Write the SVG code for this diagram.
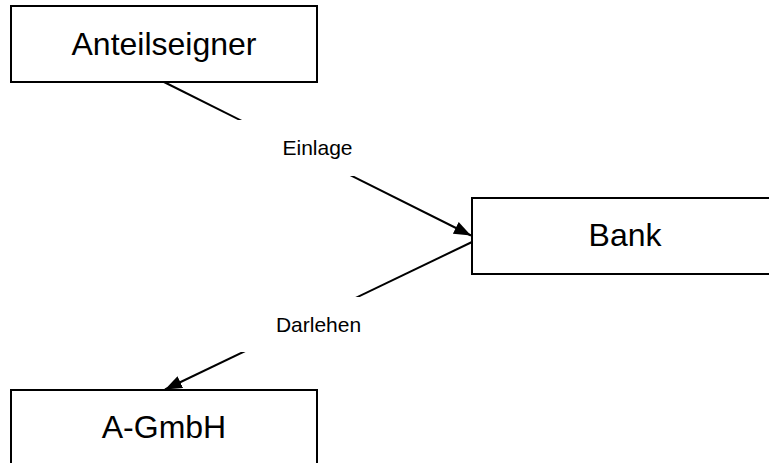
<svg xmlns="http://www.w3.org/2000/svg" width="769" height="463" viewBox="0 0 769 463">
  <style>
    .box { fill: #ffffff; stroke: #000000; stroke-width: 2; }
    .node-text { font-family: "Liberation Sans", Arial, sans-serif; font-size: 32px; fill: #000000; text-anchor: middle; }
    .edge { fill: none; stroke: #000000; stroke-width: 2; marker-end: url(#arrow); }
    .label-bg { fill: #ffffff; stroke: none; }
    .edge-label { font-family: "Liberation Sans", Arial, sans-serif; font-size: 21px; fill: #000000; text-anchor: middle; }
  </style>
  <defs>
    <marker id="arrow" viewBox="0 0 17 13" refX="17" refY="6.5" markerWidth="17" markerHeight="13" markerUnits="userSpaceOnUse" orient="auto">
      <path d="M0,0 L17,6.5 L0,13 Z" fill="#000000"/>
    </marker>
  </defs>
  <rect width="769" height="463" fill="#ffffff"/>

  <g id="connectors">
    <g id="edge-einlage">
      <line class="edge" x1="164" y1="82" x2="471" y2="235.5"/>
      <rect class="label-bg" x="220" y="120" width="150" height="56"/>
      <text class="edge-label" x="317.5" y="155">Einlage</text>
    </g>
    <g id="edge-darlehen">
      <line class="edge" x1="472" y1="242" x2="165" y2="389.5"/>
      <rect class="label-bg" x="225" y="297" width="150" height="55"/>
      <text class="edge-label" x="318.5" y="332">Darlehen</text>
    </g>
  </g>

  <g id="node-anteilseigner">
    <rect class="box" x="11" y="6" width="306" height="76"/>
    <text class="node-text" x="164" y="55">Anteilseigner</text>
  </g>
  <g id="node-bank">
    <rect class="box" x="472" y="198" width="306" height="76"/>
    <text class="node-text" x="625" y="246">Bank</text>
  </g>
  <g id="node-agmbh">
    <rect class="box" x="11" y="390" width="306" height="76"/>
    <text class="node-text" x="164" y="438">A-GmbH</text>
  </g>
</svg>
